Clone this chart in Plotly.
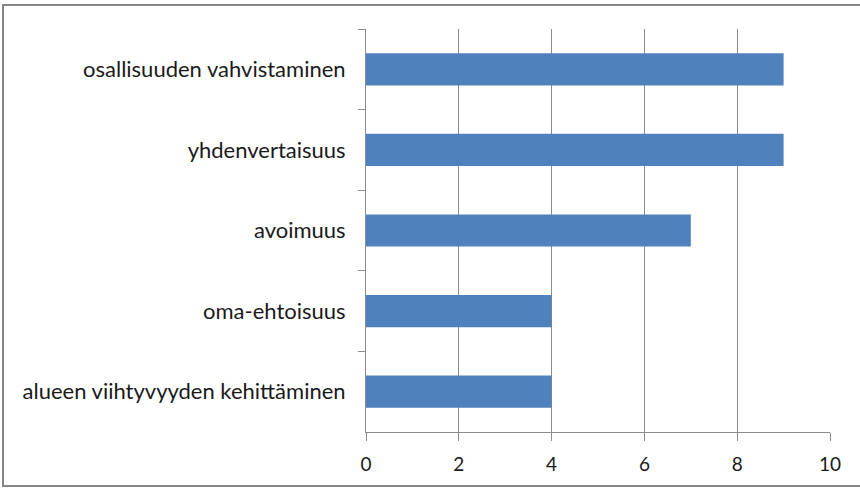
import plotly.graph_objects as go

categories = [
    "osallisuuden vahvistaminen",
    "yhdenvertaisuus",
    "avoimuus",
    "oma-ehtoisuus",
    "alueen viihtyvyyden kehittäminen",
]
values = [9, 9, 7, 4, 4]
x_ticks = [0, 2, 4, 6, 8, 10]

W, H = 860, 488
L, R, T, B = 366, 30, 29, 56
pw, ph = W - L - R, H - T - B


def px(x):
    return (x - L) / pw


def py(y):
    return (H - B - y) / ph


fig = go.Figure(
    go.Bar(
        x=values,
        y=categories,
        orientation="h",
        width=0.4,
        marker=dict(color="#4f81bd", line=dict(color="#4f81bd", width=0)),
    )
)

fig.update_layout(
    width=W,
    height=H,
    margin=dict(l=L, r=R, t=T, b=B),
    paper_bgcolor="white",
    plot_bgcolor="white",
    showlegend=False,
    font=dict(family="Lato", size=22, color="#1a1a1a"),
    xaxis=dict(
        range=[0, 10],
        tickvals=x_ticks,
        showgrid=True,
        gridcolor="#8c8c8c",
        gridwidth=1,
        zeroline=False,
        showline=True,
        linecolor="#8c8c8c",
        ticks="outside",
        ticklen=8,
        tickcolor="#8c8c8c",
        tickfont=dict(size=19),
        ticklabelstandoff=7,
    ),
    yaxis=dict(
        autorange="reversed",
        showgrid=False,
        zeroline=False,
        showline=True,
        linecolor="#8c8c8c",
        ticks="outside",
        ticklen=7,
        tickcolor="#8c8c8c",
        tickson="boundaries",
        tickfont=dict(size=22),
        ticklabelstandoff=15,
    ),
    shapes=[
        dict(
            type="rect",
            xref="paper",
            yref="paper",
            x0=px(3),
            x1=px(866),
            y0=py(486),
            y1=py(5),
            line=dict(color="#868686", width=2),
            fillcolor="rgba(0,0,0,0)",
            layer="above",
        )
    ],
)

fig.write_html(
    "out.html",
    config={"displayModeBar": False},
    post_script="document.body.style.margin='0';",
)
